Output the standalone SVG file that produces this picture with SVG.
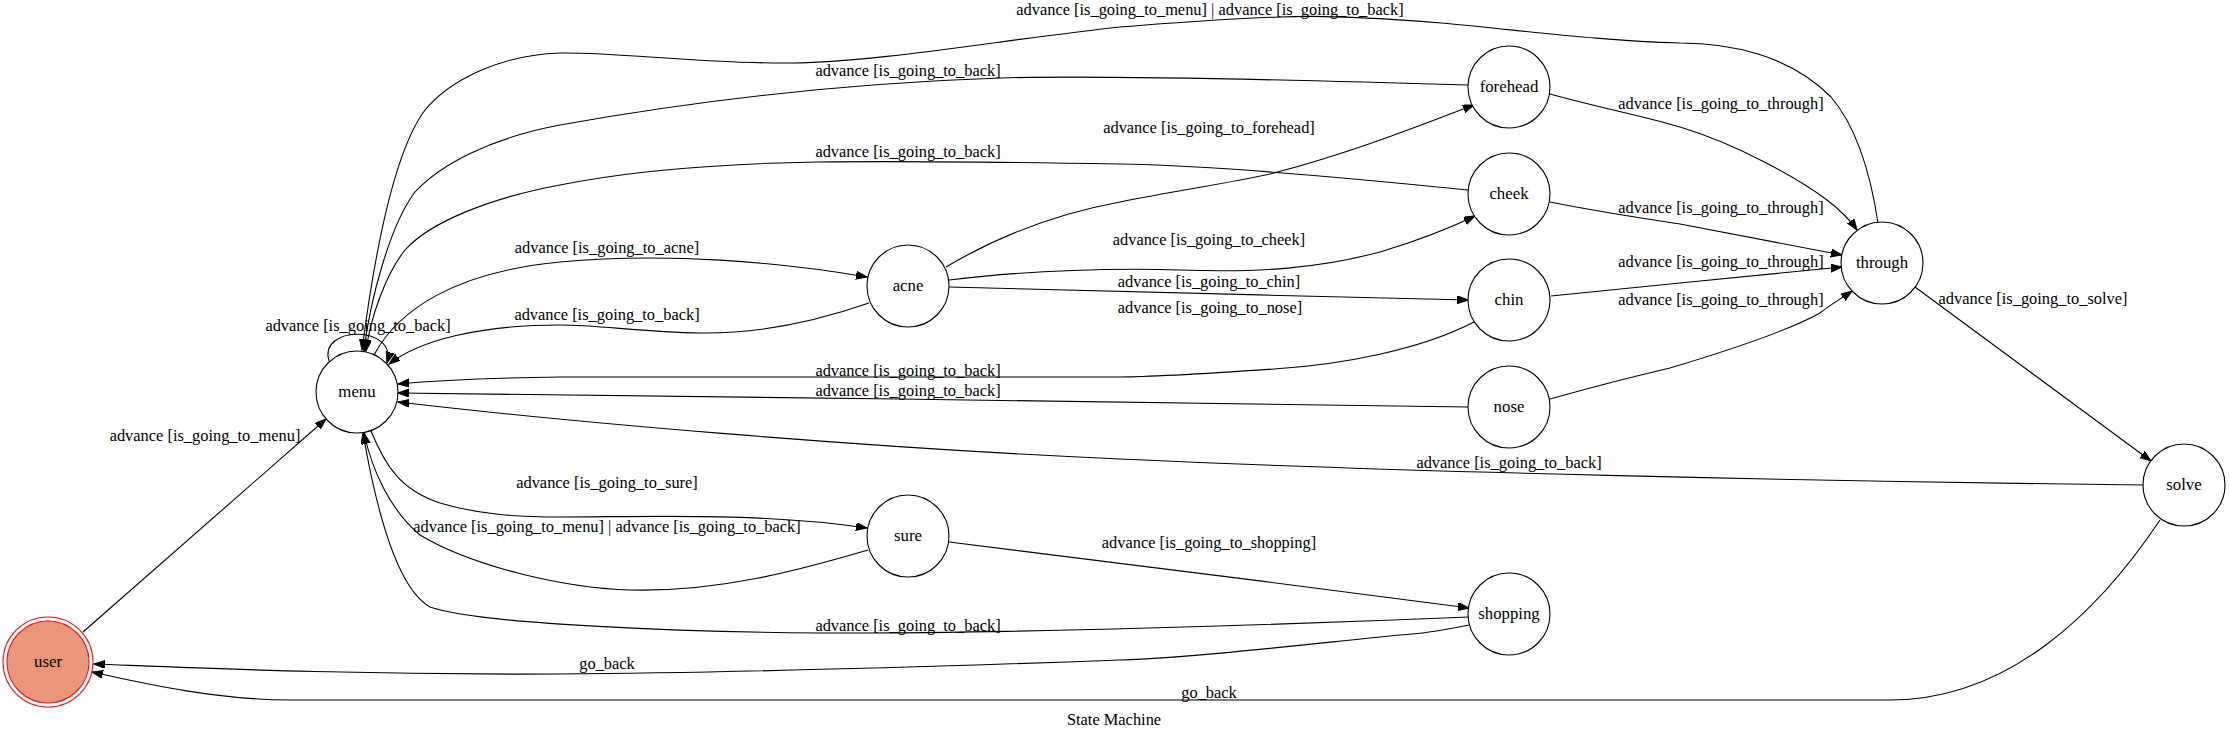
<svg xmlns="http://www.w3.org/2000/svg" width="2229" height="736" viewBox="0 0 2229 736">
<style>
text{font-family:"Liberation Serif","Times New Roman",serif;font-size:16.4px;fill:#000;text-anchor:middle}
.node text{font-size:16.8px}
.node circle{fill:#fff;stroke:#000;stroke-width:1.1}
#edges path{fill:none;stroke:#000;stroke-width:1.1;marker-end:url(#arr)}
</style>
<defs>
<marker id="arr" markerUnits="userSpaceOnUse" markerWidth="12" markerHeight="9" refX="11" refY="4" orient="auto">
<path d="M0,0 L11,4 L0,8 z" fill="#000" stroke="#000" stroke-width="1"/>
</marker>
</defs>
<rect width="2229" height="736" fill="#fff"/>
<g id="edges">
<path d="M83,632 L326,419"/>
<path d="M329,361 C318,325 398,325 387,363"/>
<path d="M374,355 C398,310 455,272 560,262 C665,252 780,262 867,277"/>
<path d="M869,303 C820,320 760,334 700,333 C640,332 600,325 560,325 C480,325 420,340 389,364"/>
<path d="M371,431 C385,465 400,490 440,503 C480,515 520,517 560,517 C640,517 760,512 867,528"/>
<path d="M868,550 C800,570 720,592 631,590 C560,588 470,565 420,535 C390,510 372,470 364,433"/>
<path d="M1469,617 C1300,624 1000,634 817,633 C700,632 480,625 430,607 C400,590 378,520 363,433"/>
<path d="M1469,625 C1440,631 1420,634 1400,635 C1300,645 1200,657 1120,660 C900,668 700,673 560,674 C350,675 200,668 94,664"/>
<path d="M2160,520 C2100,610 2010,700 1890,700 L290,700 C220,700 150,685 92,672"/>
<path d="M2143,485 C1800,481 1400,472 1120,459 C850,447 560,421 398,402"/>
<path d="M1468,407 C1200,403 700,396 398,393"/>
<path d="M1474,322 C1420,350 1340,365 1274,369 C1200,374 1140,377 1120,377 L560,377 C480,378 430,381 398,384"/>
<path d="M949,287 C1100,291 1300,296 1468,300"/>
<path d="M949,280 C1030,270 1120,268 1180,270 C1260,273 1320,268 1380,252 C1420,240 1450,228 1475,216"/>
<path d="M946,267 C1000,235 1060,213 1120,202 C1180,190 1230,183 1274,173 C1360,150 1420,125 1474,105"/>
<path d="M1468,85 C1300,80 1100,75 1000,78 C850,83 700,100 560,125 C490,138 440,165 415,192 C390,225 370,300 364,351"/>
<path d="M1468,190 C1350,178 1200,165 1120,164 C1000,162 900,161 817,162 C700,164 620,173 560,185 C490,198 430,222 405,250 C385,275 370,320 366,351"/>
<path d="M1878,223 C1870,170 1855,125 1831,97 C1790,55 1730,43 1680,43 C1600,41 1520,30 1441,23 C1380,18 1320,15 1281,17 C1220,19 1160,24 1120,27 C1000,40 880,62 792,63 C700,64 620,52 560,53 C500,55 450,80 425,110 C395,150 375,250 362,350"/>
<path d="M1550,94 C1600,108 1640,115 1680,127 C1740,145 1800,180 1827,200 C1840,210 1850,220 1857,230"/>
<path d="M1550,202 C1600,212 1640,218 1680,224 L1842,255"/>
<path d="M1551,296 L1680,283 L1842,267"/>
<path d="M1550,399 C1600,385 1640,375 1670,368 C1730,350 1790,330 1820,313 C1830,305 1842,298 1852,291"/>
<path d="M1915,287 L2151,461"/>
<path d="M949,542 C1100,560 1300,586 1469,608"/>
</g>
<g id="edge-labels">
<text x="205" y="441">advance [is_going_to_menu]</text>
<text x="358" y="331">advance [is_going_to_back]</text>
<text x="607" y="253">advance [is_going_to_acne]</text>
<text x="607" y="320">advance [is_going_to_back]</text>
<text x="607" y="488">advance [is_going_to_sure]</text>
<text x="607" y="532">advance [is_going_to_menu] | advance [is_going_to_back]</text>
<text x="908" y="631">advance [is_going_to_back]</text>
<text x="607" y="669">go_back</text>
<text x="1209" y="698">go_back</text>
<text x="1509" y="468">advance [is_going_to_back]</text>
<text x="908" y="396">advance [is_going_to_back]</text>
<text x="908" y="376">advance [is_going_to_back]</text>
<text x="1209" y="287">advance [is_going_to_chin]</text>
<text x="1210" y="313">advance [is_going_to_nose]</text>
<text x="1209" y="245">advance [is_going_to_cheek]</text>
<text x="1209" y="133">advance [is_going_to_forehead]</text>
<text x="908" y="76">advance [is_going_to_back]</text>
<text x="908" y="157">advance [is_going_to_back]</text>
<text x="1210" y="15">advance [is_going_to_menu] | advance [is_going_to_back]</text>
<text x="1721" y="109">advance [is_going_to_through]</text>
<text x="1721" y="213">advance [is_going_to_through]</text>
<text x="1721" y="267">advance [is_going_to_through]</text>
<text x="1721" y="305">advance [is_going_to_through]</text>
<text x="2033" y="304">advance [is_going_to_solve]</text>
<text x="1209" y="548">advance [is_going_to_shopping]</text>
</g>
<g id="node-user" class="node">
<circle cx="48" cy="662" r="45" style="fill:none;stroke:#e41a1c"/>
<circle cx="48" cy="662" r="41" style="fill:#e9967a;stroke:#e41a1c"/>
<text x="48" y="667">user</text>
</g>
<g id="node-menu" class="node"><circle cx="357" cy="392" r="41"/><text x="357" y="397">menu</text></g>
<g id="node-acne" class="node"><circle cx="908" cy="286" r="41"/><text x="908" y="291">acne</text></g>
<g id="node-sure" class="node"><circle cx="908" cy="536" r="41"/><text x="908" y="541">sure</text></g>
<g id="node-forehead" class="node"><circle cx="1509" cy="87" r="41"/><text x="1509" y="92">forehead</text></g>
<g id="node-cheek" class="node"><circle cx="1509" cy="194" r="41"/><text x="1509" y="199">cheek</text></g>
<g id="node-chin" class="node"><circle cx="1509" cy="300" r="41"/><text x="1509" y="305">chin</text></g>
<g id="node-nose" class="node"><circle cx="1509" cy="407" r="41"/><text x="1509" y="412">nose</text></g>
<g id="node-shopping" class="node"><circle cx="1509" cy="614" r="41"/><text x="1509" y="619">shopping</text></g>
<g id="node-through" class="node"><circle cx="1882" cy="263" r="41"/><text x="1882" y="268">through</text></g>
<g id="node-solve" class="node"><circle cx="2184" cy="485" r="41"/><text x="2184" y="490">solve</text></g>
<text id="title" x="1114" y="725">State Machine</text>
</svg>
